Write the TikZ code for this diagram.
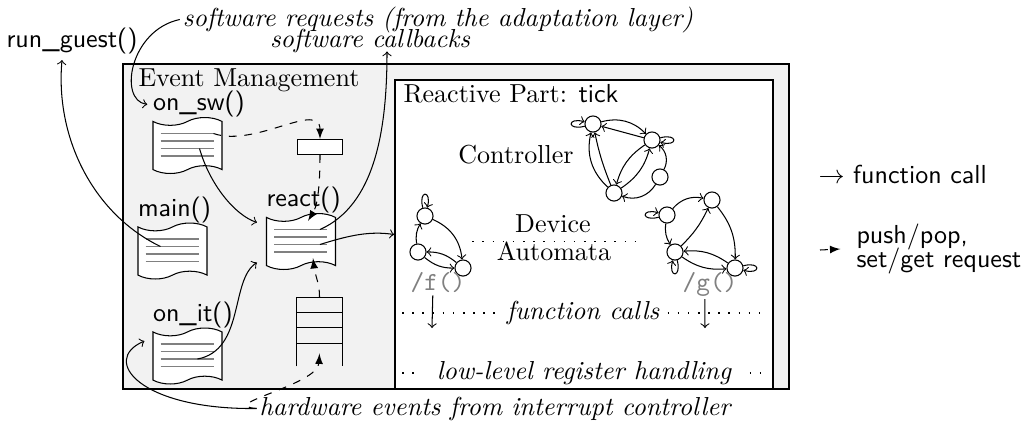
\documentclass[tikz,border=0pt]{standalone}
\usepackage{tikz}
\usetikzlibrary{automata, positioning, arrows, shapes.symbols}
\usepackage{xcolor}
\usepackage{amsmath}
\tikzset{
	>=to,
	every state/.style={draw, minimum size=6.2pt, inner sep=0pt},
	every loop/.style={->, min distance=2.5mm},
	doc/.style={tape, draw, fill=white, minimum width=26.5pt, minimum height=21.5pt, tape bend height=3pt},
	fname/.style={font=\sffamily, inner sep=0pt},
	note/.style={font=\itshape, inner sep=1pt},
	req/.style={dashed, -latex},
	dotline/.style={dash pattern=on 0.6pt off 3.3pt},
	box/.style={draw, semithick}}

\begin{document}
\begin{tikzpicture}[x=0.0135cm, y=-0.0135cm]
	\useasboundingbox (0,0) rectangle (1027,427);
	\node[box, fill=gray!10, minimum width=255.8pt, minimum height=124.8pt] (evmgmt) at (456,226.5) {};
	\node[box, fill=white, minimum width=145.2pt, minimum height=118.7pt] (reactive) at (584,234.5) {};
	\node[anchor=base west, inner sep=0pt] (evlbl) at (138,86) {Event Management};
	\node[anchor=base west, inner sep=0pt] (rplbl) at (403,102) {Reactive Part: \textsf{tick}};
	
	\node[doc] (onsw) at (187.5,145.5) {};
	\node[doc] (main) at (172.5,251) {};
	\node[doc] (react) at (301,241.5) {};
	\node[doc] (onit) at (187.5,356) {};
	\foreach \d in {onsw, main, react, onit}
		\foreach \dy in {-12, -4.5, 3, 10.5}
			\draw[gray] ([shift={(-27,\dy)}]\d.center) -- ([shift={(26,\dy)}]\d.center);
	\node[fname, above right=1pt and 0pt of onsw.north west] (onswlbl) {on\_sw()};
	\node[fname, above right=1pt and 0pt of main.north west] (mainlbl) {main()};
	\node[fname, above right=1pt and 0pt of react.north west] (reactlbl) {react()};
	\node[fname, above right=1pt and 0pt of onit.north west] (onitlbl) {on\_it()};
	
	\node[draw, fill=white, minimum width=17.3pt, minimum height=5.8pt, inner sep=0pt] (buffer) at (320,147) {};
	\node[minimum width=17.3pt, minimum height=26.1pt, inner sep=0pt] (stack) at (319.5,332) {};
	\draw (stack.south west) -- (stack.north west) -- (stack.north east) -- (stack.south east);
	\foreach \dy in {15, 30, 46}
		\draw ([shift={(0,\dy)}]stack.north west) -- ([shift={(0,\dy)}]stack.north east);
	
	\node[fname, anchor=base] (runguest) at (72,47) {run\_guest()};
	\node[note, anchor=base] (softreq) at (438,26) {software requests (from the adaptation layer)};
	\node[note, anchor=base] (swcb) at (370,47) {software callbacks};
	\node[note, anchor=base] (hw) at (495,415) {hardware events from interrupt controller};
	
	\node[state] (c0) at (593,124) {};
	\node[state] (c1) at (652,140) {};
	\node[state] (c2) at (660,177) {};
	\node[state] (c3) at (614,193) {};
	\node[state] (f0) at (425,216) {};
	\node[state] (f1) at (418,252) {};
	\node[state] (f2) at (463,268) {};
	\node[state] (g0) at (667,215) {};
	\node[state] (g1) at (712,200) {};
	\node[state] (g2) at (675,252) {};
	\node[state] (g3) at (735,268) {};
	
	\draw[->]
		(c0) edge[loop left] (c0)
		(c0) edge[bend left=30] (c1)
		(c1) edge (c0)
		(c1) edge[loop right] (c1)
		(c3) edge[bend left=30] (c0)
		(c3) edge[bend left=5] (c0)
		(c1) edge[bend right=20] (c3)
		(c3) edge[bend right=20] (c1)
		(c2) edge[bend right=40] (c1)
		(c2) edge[bend left=40] (c3)
		(f0) edge[loop above] (f0)
		(f0) edge[bend left=30] (f2)
		(f2) edge[bend right=20] (f1)
		(f1) edge[bend right=20] (f2)
		(f1) edge[bend left=20] (f0)
		(g0) edge[loop left] (g0)
		(g0) edge[bend left=30] (g1)
		(g0) edge[bend right=20] (g2)
		(g2) edge[bend right=10] (g1)
		(g1) edge[bend left=20] (g3)
		(g3) edge[bend right=20] (g2)
		(g2) edge[bend right=20] (g3)
		(g2) edge[loop below] (g2)
		(g3) edge[loop right] (g3)
		;
	
	\node[anchor=base] (ctl) at (516,163) {Controller};
	\node[anchor=base] (dev) at (553,232) {Device};
	\node[anchor=base] (auto) at (554,260) {Automata};
	\draw[dotline] ([xshift=-31pt]dev.south) -- ([xshift=32pt]dev.south);
	\node[font=\ttfamily, text=gray, anchor=base, inner sep=1pt] (fcall) at (438,290) {/f()};
	\node[font=\ttfamily, text=gray, anchor=base, inner sep=1pt] (gcall) at (710,290) {/g()};
	\coordinate (fdown) at (432,328);
	\coordinate (gdown) at (705,328);
	\draw[->] ([xshift=-2pt]fcall.south) -- (fdown);
	\draw[->] ([xshift=-2pt]gcall.south) -- (gdown);
	\node[note] (fcalls) at (583,313) {function calls};
	\draw[dotline, shorten <=3pt, shorten >=2pt] (reactive.west |- fcalls) -- (fcalls.west);
	\draw[dotline, shorten <=2pt, shorten >=3pt] (fcalls.east) -- (reactive.east |- fcalls);
	\node[note] (lowlvl) at (584,373) {low-level register handling};
	\draw[dotline, shorten <=3pt, shorten >=6pt] (reactive.west |- lowlvl) -- (lowlvl.west);
	\draw[dotline, shorten <=6pt, shorten >=3pt] (lowlvl.east) -- (reactive.east |- lowlvl);
	
	\draw[->] (softreq.west) .. controls (130,30) and (118,100) .. ([xshift=-2pt]onswlbl.west);
	\draw[->] ([shift={(12,3)}]onsw.center) .. controls (210,185) and (235,215) .. ([shift={(-9,-19)}]react.west);
	\draw[->] ([shift={(-12,-4.5)}]main.center) .. controls (95,215) and (55,140) .. ([shift={(-10,6)}]runguest.south);
	\draw[->] ([shift={(10,3)}]onit.center) .. controls (245,350) and (230,280) .. ([shift={(-9,21)}]react.west);
	\draw[->] ([shift={(19,-12)}]react.center) .. controls (375,205) and (387,130) .. ([shift={(17,-4)}]swcb.south);
	\draw[->] ([shift={(19,3)}]react.center) .. controls (350,235) and (370,231) .. (reactive.west);
	\draw[->] (hw.west) .. controls (140,410) and (100,360) .. ([shift={(-8,10)}]onit.north west);
	
	\draw[req] ([shift={(26,-12)}]onsw.center) .. controls (255,148) and (320,100) .. (buffer.north);
	\draw[req] (buffer.south) .. controls (320,195) and (316,208) .. ([shift={(7,4)}]react.north);
	\draw[req] (stack.north) .. controls (320,285) and (315,275) .. ([shift={(12,-8)}]react.south);
	\draw[req] (hw.west) .. controls (215,405) and (318,385) .. ([shift={(0,-13)}]stack.south);
	
	\node[fname, anchor=base west] (lgcall) at (818,183) {$\rightarrow$ function call};
	\node[fname, anchor=west, align=left] (lgreq) at (856,249) {push/pop,\\[-3pt]set/get request};
	\coordinate (lgreqa) at (820,250);
	\draw[req] (lgreqa) -- ([xshift=-6pt]lgreq.west);
\end{tikzpicture}
\end{document}
